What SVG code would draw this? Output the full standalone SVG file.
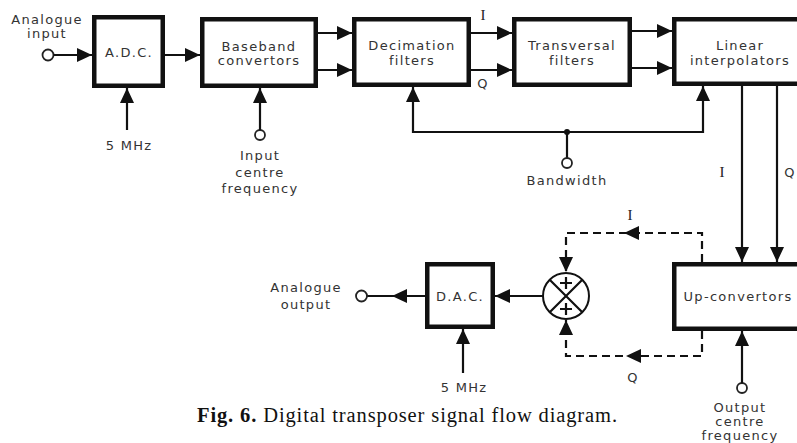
<svg xmlns="http://www.w3.org/2000/svg" width="797" height="443" viewBox="0 0 797 443">
<style>
.box{fill:#fff;stroke:#111;stroke-width:4.5}
.ln{fill:none;stroke:#111;stroke-width:2.2}
.dash{fill:none;stroke:#111;stroke-width:2.2;stroke-dasharray:8 5}
.term{fill:#fff;stroke:#222;stroke-width:1.8}
.t{font-family:"DejaVu Sans",sans-serif;font-size:13px;letter-spacing:1.3px;fill:#333;text-anchor:middle}
.s{font-family:"Liberation Serif",serif;font-size:15px;fill:#222;text-anchor:middle}
.cap{font-family:"Liberation Serif",serif;font-size:20.5px;fill:#111}
.ah{fill:#111}
</style>
<defs>
<marker id="a" markerUnits="userSpaceOnUse" markerWidth="15" markerHeight="14" refX="15" refY="7" orient="auto">
<path d="M0,0 L15,7 L0,14 z" fill="#111"/>
</marker>
</defs>
<rect width="797" height="443" fill="#fff"/>

<g id="adc"><rect class="box" x="94.25" y="17.25" width="68.5" height="68.5"/><text class="t" x="129" y="57">A.D.C.</text></g>
<g id="baseband"><rect class="box" x="202.25" y="19.25" width="113.5" height="66.5"/><text class="t" x="259" y="51">Baseband</text><text class="t" x="259" y="65">convertors</text></g>
<g id="decimation"><rect class="box" x="354.25" y="19.25" width="114.5" height="65.5"/><text class="t" x="412" y="50">Decimation</text><text class="t" x="412" y="65">filters</text></g>
<g id="transversal"><rect class="box" x="514.25" y="19.25" width="115.5" height="65.5"/><text class="t" x="572" y="50">Transversal</text><text class="t" x="572" y="65">filters</text></g>
<g id="linear"><rect class="box" x="674.25" y="19.25" width="130" height="64.5"/><text class="t" x="740" y="50">Linear</text><text class="t" x="740" y="65">interpolators</text></g>
<g id="dac"><rect class="box" x="427.25" y="264.25" width="65.5" height="62.5"/><text class="t" x="460" y="301">D.A.C.</text></g>
<g id="upconv"><rect class="box" x="674.25" y="264.25" width="130" height="64.5"/><text class="t" x="738" y="301">Up-convertors</text></g>
<g id="sum">
<circle cx="566" cy="296" r="23" fill="#fff" stroke="#111" stroke-width="2"/>
<path class="ln" d="M549.7,279.7 L582.3,312.3 M582.3,279.7 L549.7,312.3" stroke-width="1.6"/>
<path class="ln" d="M560,283 H572 M566,277 V289 M560,309 H572 M566,303 V315" stroke-width="2"/>
</g>

<g id="connectors">
<circle class="term" cx="48" cy="55" r="5.5"/>
<line class="ln" x1="53.5" y1="55" x2="92" y2="55" marker-end="url(#a)"/>
<line class="ln" x1="165" y1="55" x2="200" y2="55" marker-end="url(#a)"/>
<line class="ln" x1="127" y1="130" x2="127" y2="88" marker-end="url(#a)"/>
<circle class="term" cx="260" cy="135" r="5"/>
<line class="ln" x1="260" y1="130" x2="260" y2="88" marker-end="url(#a)"/>
<line class="ln" x1="318" y1="33" x2="352" y2="33" marker-end="url(#a)"/>
<line class="ln" x1="318" y1="70" x2="352" y2="70" marker-end="url(#a)"/>
<line class="ln" x1="471" y1="33" x2="512" y2="33" marker-end="url(#a)"/>
<line class="ln" x1="471" y1="70" x2="512" y2="70" marker-end="url(#a)"/>
<line class="ln" x1="632" y1="31" x2="672" y2="31" marker-end="url(#a)"/>
<line class="ln" x1="632" y1="68" x2="672" y2="68" marker-end="url(#a)"/>
<path class="ln" d="M567,132 H413 V87" marker-end="url(#a)"/>
<path class="ln" d="M567,132 H703 V86" marker-end="url(#a)"/>
<circle cx="567" cy="132" r="3" fill="#111"/>
<line class="ln" x1="567" y1="132" x2="567" y2="158"/>
<circle class="term" cx="567" cy="163" r="5"/>
<line class="ln" x1="742" y1="86" x2="742" y2="262" marker-end="url(#a)"/>
<line class="ln" x1="777" y1="86" x2="777" y2="262" marker-end="url(#a)"/>
<path class="dash" d="M702,262 V233 H566 V272" marker-end="url(#a)"/>
<polygon class="ah" points="624,233 639,226 639,240"/>
<path class="dash" d="M702,331 V356 H566 V320" marker-end="url(#a)"/>
<polygon class="ah" points="626,356 641,349 641,363"/>
<line class="ln" x1="543" y1="296" x2="495" y2="296" marker-end="url(#a)"/>
<line class="ln" x1="425" y1="296" x2="367" y2="296"/>
<polygon class="ah" points="392,296 407,289 407,303"/>
<circle class="term" cx="361.5" cy="296" r="5.5"/>
<line class="ln" x1="463" y1="373" x2="463" y2="329" marker-end="url(#a)"/>
<circle class="term" cx="742" cy="388" r="5"/>
<line class="ln" x1="742" y1="383" x2="742" y2="331" marker-end="url(#a)"/>
</g>

<g id="labels">
<text class="t" x="47" y="24">Analogue</text>
<text class="t" x="47" y="38">input</text>
<text class="t" x="129" y="150">5 MHz</text>
<text class="t" x="260" y="160">Input</text>
<text class="t" x="260" y="177">centre</text>
<text class="t" x="260" y="193">frequency</text>
<text class="t" x="567" y="185">Bandwidth</text>
<text class="s" x="483" y="20">I</text>
<text class="t" x="483" y="88">Q</text>
<text class="s" x="722" y="177">I</text>
<text class="t" x="790" y="177">Q</text>
<text class="s" x="630" y="220">I</text>
<text class="t" x="633" y="382">Q</text>
<text class="t" x="306" y="292">Analogue</text>
<text class="t" x="306" y="309">output</text>
<text class="t" x="464" y="392">5 MHz</text>
<text class="t" x="740" y="412">Output</text>
<text class="t" x="740" y="426">centre</text>
<text class="t" x="740" y="440">frequency</text>
<text class="cap" x="197" y="422" textLength="420" lengthAdjust="spacing"><tspan font-weight="bold">Fig. 6.</tspan> Digital transposer signal flow diagram.</text>
</g>
</svg>
